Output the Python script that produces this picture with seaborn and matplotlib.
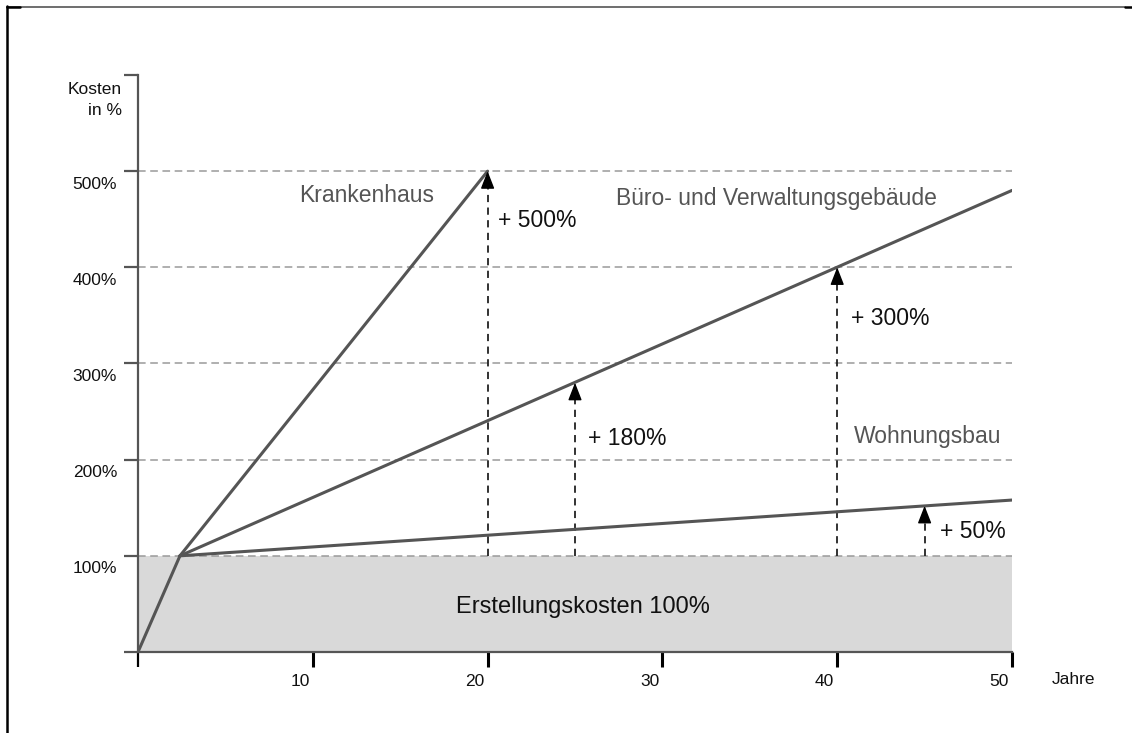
import matplotlib
matplotlib.use('Agg')
import matplotlib.pyplot as plt
import matplotlib.transforms as mtransforms
from matplotlib.lines import Line2D
import pandas as pd
import seaborn as sns

# Werte aus der Vorlage (Jahre / Kosten in %)
knick = 2.4
bau_jahre = [0, knick]
bau_kosten = [0, 100]
kh_jahre = [knick, 20]
kh_kosten = [100, 500]
buero_jahre = [knick, 50]
buero_kosten = [100, 480]
wohn_jahre = [knick, 50]
wohn_kosten = [100, 158]

pfeil_jahre = [20, 25, 40, 45]
pfeil_kosten = [500, 280, 400, 152]
pfeil_texte = ["+ 500%", "+ 180%", "+ 300%", "+ 50%"]
pfeil_text_pos = [(20.6, 449), (25.75, 222), (40.8, 347), (45.9, 125)]

namen = ["Krankenhaus", "Büro- und Verwaltungsgebäude", "Wohnungsbau"]
namen_pos = [(13.1, 475), (36.55, 472), (45.2, 224)]

y_ticks = [0, 100, 200, 300, 400, 500, 600]
y_labels = ["", "100%", "200%", "300%", "400%", "500%", ""]
x_ticks = [0, 10, 20, 30, 40, 50]
x_labels = ["", "10", "20", "30", "40", "50"]

df = pd.concat([
    pd.DataFrame({"jahre": bau_jahre, "kosten": bau_kosten, "typ": "Bau"}),
    pd.DataFrame({"jahre": kh_jahre, "kosten": kh_kosten, "typ": "Krankenhaus"}),
    pd.DataFrame({"jahre": buero_jahre, "kosten": buero_kosten, "typ": "Buero"}),
    pd.DataFrame({"jahre": wohn_jahre, "kosten": wohn_kosten, "typ": "Wohnen"}),
])

sns.set_theme(style="white")
plt.rcParams['font.family'] = ['Liberation Sans', 'DejaVu Sans']

fig = plt.figure(figsize=(11.32, 7.33), dpi=100)
ax = fig.add_axes([138 / 1132, 81 / 733, 874 / 1132, 577 / 733])

# grauer Block fuer die Erstellungskosten
ax.fill_between([0, 50], 0, 100, color="#d9d9d9", lw=0, zorder=0)

# gestrichelte Hilfslinien
for y in y_ticks[1:-1]:
    ax.plot([0, 50], [y, y], color="#9a9a9a", lw=1.1, ls=(0, (5, 3)), zorder=1)

sns.lineplot(data=df, x="jahre", y="kosten", hue="typ", units="typ",
             palette=["#555555"] * 4, estimator=None, sort=False,
             legend=False, lw=2.2, ax=ax, zorder=3)

# Pfeile
for x, top in zip(pfeil_jahre, pfeil_kosten):
    ax.plot([x, x], [100, top - 8], color="#222222", lw=1.3,
            ls=(0, (4, 3)), zorder=2)
    ax.annotate("", xy=(x, top), xytext=(x, top - 14),
                arrowprops=dict(arrowstyle="-|>,head_length=0.9,head_width=0.35",
                                color="black", lw=1, shrinkA=0, shrinkB=0),
                zorder=4)

for txt, (x, y) in zip(pfeil_texte, pfeil_text_pos):
    ax.text(x, y, txt, fontsize=16.5, color="#111111", ha="left", va="center")

for txt, (x, y) in zip(namen, namen_pos):
    ax.text(x, y, txt, fontsize=16.5, color="#555555", ha="center", va="center")

ax.text(25.45, 47, "Erstellungskosten 100%", fontsize=17, color="#111111",
        ha="center", va="center")

ax.set_xlim(0, 50)
ax.set_ylim(0, 600)
ax.set_xlabel("")
ax.set_ylabel("")

for side in ["top", "right"]:
    ax.spines[side].set_visible(False)
for side in ["left", "bottom"]:
    ax.spines[side].set_color("#555555")
    ax.spines[side].set_linewidth(1.6)

ax.set_yticks(y_ticks)
ax.set_yticklabels(y_labels)
ax.set_xticks(x_ticks)
ax.set_xticklabels(x_labels)
ax.tick_params(axis="y", left=True, length=10, width=1.6, color="#555555",
               direction="out", pad=5, labelsize=12.5, labelcolor="#111111")
ax.tick_params(axis="x", bottom=True, length=11, width=2.2, color="black",
               direction="out", pad=5, labelsize=12.5, labelcolor="#111111")
t0 = ax.xaxis.get_major_ticks()[0]
t0.tick1line.set_color("#555555")
t0.tick1line.set_markeredgewidth(1.6)

for lab in ax.get_yticklabels():
    lab.set_transform(lab.get_transform() +
                      mtransforms.ScaledTranslation(0, -11.5 / 100, fig.dpi_scale_trans))
for lab in ax.get_xticklabels():
    lab.set_ha("right")
    lab.set_transform(lab.get_transform() +
                      mtransforms.ScaledTranslation(-3 / 100, 0, fig.dpi_scale_trans))

fig.text(122 / 1132, 1 - 100 / 733, "Kosten\nin %", fontsize=12.5, color="#111111",
         ha="right", va="center", multialignment="right", linespacing=1.45)
fig.text(1074 / 1132, 1 - 680 / 733, "Jahre", fontsize=12.5, color="#111111",
         ha="center", va="center")

# Rahmen oben und links
fig.add_artist(Line2D([7 / 1132, 1125 / 1132], [1 - 6.5 / 733, 1 - 6.5 / 733],
                      color="#555555", lw=1.2, transform=fig.transFigure))
fig.add_artist(Line2D([7 / 1132, 20 / 1132], [1 - 6.5 / 733, 1 - 6.5 / 733],
                      color="black", lw=1.8, transform=fig.transFigure))
fig.add_artist(Line2D([1125 / 1132, 1132 / 1132], [1 - 6.5 / 733, 1 - 6.5 / 733],
                      color="black", lw=1.8, transform=fig.transFigure))
fig.add_artist(Line2D([7 / 1132, 7 / 1132], [0, 1 - 6 / 733],
                      color="black", lw=1.8, transform=fig.transFigure))

fig.savefig("out.png", dpi=100)
plt.close(fig)
